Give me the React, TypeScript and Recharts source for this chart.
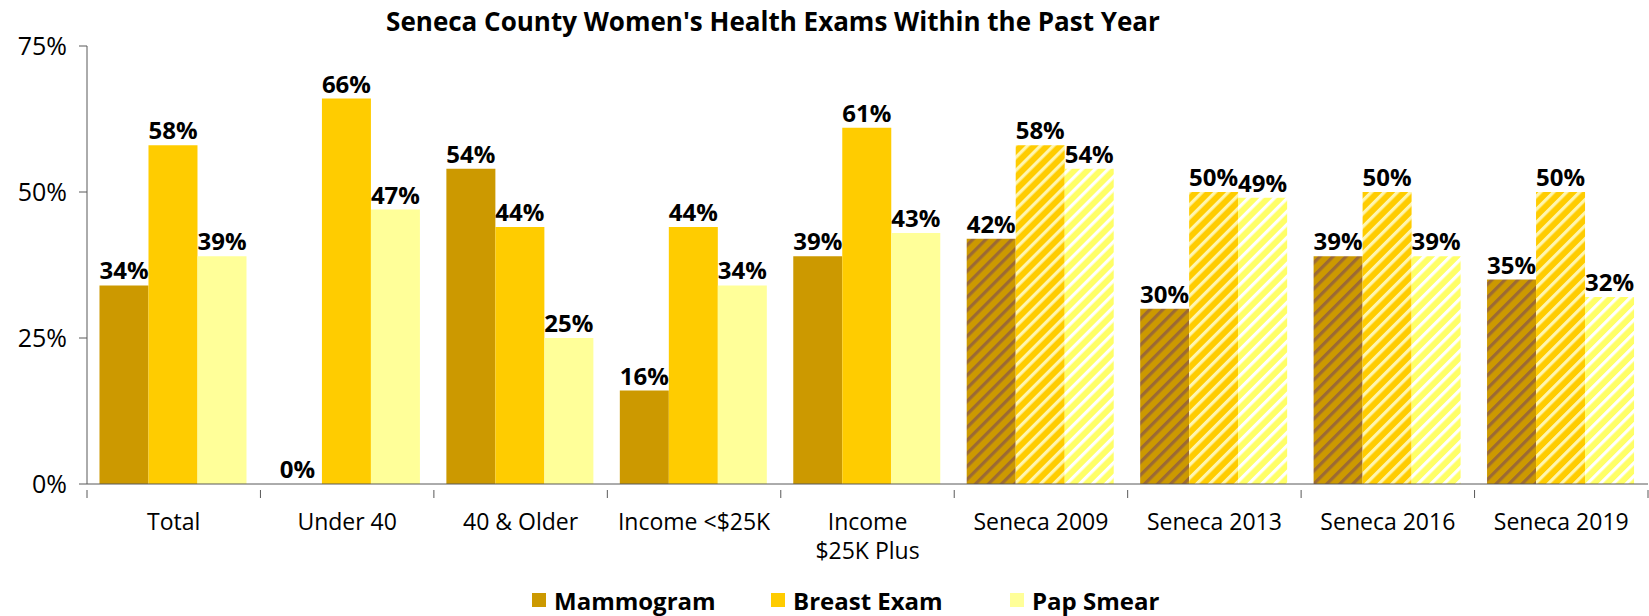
import { BarChart, Bar, XAxis, YAxis, Legend, LabelList, Cell } from 'recharts';

const categories = [
  'Total',
  'Under 40',
  '40 & Older',
  'Income <$25K',
  'Income\n$25K Plus',
  'Seneca 2009',
  'Seneca 2013',
  'Seneca 2016',
  'Seneca 2019',
];
const mammogram = [34, 0, 54, 16, 39, 42, 30, 39, 35];
const breastExam = [58, 66, 44, 44, 61, 58, 50, 50, 50];
const papSmear = [39, 47, 25, 34, 43, 54, 49, 39, 32];
const yTicks = [0, 25, 50, 75];

const data = categories.map((name, i) => ({
  name,
  mammogram: mammogram[i],
  breast: breastExam[i],
  pap: papSmear[i],
}));

const FONT = '"Open Sans", "Noto Sans", sans-serif';
const AXIS = '#595959';

const series = [
  { key: 'mammogram', label: 'Mammogram', color: '#CC9900', hatch: 'url(#hatch-m)' },
  { key: 'breast', label: 'Breast Exam', color: '#FFCC00', hatch: 'url(#hatch-b)' },
  { key: 'pap', label: 'Pap Smear', color: '#FFFF99', hatch: 'url(#hatch-p)' },
];

// survey years are drawn hatched
const isHatched = (name: string) => name.startsWith('Seneca');

const XTick = (props: any) => {
  const { x, y, payload, width, visibleTicksCount, index } = props;
  const band = width / visibleTicksCount;
  const lines = String(payload.value).split('\n');
  return (
    <g>
      <line x1={x - band / 2} x2={x - band / 2} y1={y} y2={y + 8} stroke={AXIS} />
      {index === visibleTicksCount - 1 && (
        <line x1={x + band / 2} x2={x + band / 2} y1={y} y2={y + 8} stroke={AXIS} />
      )}
      <text x={x} y={y + 40} textAnchor="middle" fontSize={23} fontFamily={FONT} fill="#000">
        {lines.map((l, i) => (
          <tspan key={i} x={x} dy={i === 0 ? 0 : 29}>
            {l}
          </tspan>
        ))}
      </text>
    </g>
  );
};

const LegendContent = () => (
  <div style={{ display: 'flex', paddingLeft: 532, height: 32, alignItems: 'center', fontFamily: FONT }}>
    {series.map((s) => (
      <div key={s.key} style={{ width: 239, display: 'flex', alignItems: 'center' }}>
        <span style={{ width: 14, height: 14, background: s.color, marginRight: 8 }} />
        <span style={{ fontSize: 24, fontWeight: 700, color: '#000' }}>{s.label}</span>
      </div>
    ))}
  </div>
);

export default function App() {
  return (
    <div style={{ position: 'absolute', left: 0, top: 0, width: 1649, height: 616, background: '#fff' }}>
      <div
        style={{
          position: 'absolute',
          left: 0,
          top: 5,
          width: 1546,
          textAlign: 'center',
          fontFamily: FONT,
          fontWeight: 700,
          fontSize: 26,
          lineHeight: '32px',
          zIndex: 1,
        }}
      >
        Seneca County Women's Health Exams Within the Past Year
      </div>
      <BarChart
        width={1649}
        height={616}
        data={data}
        margin={{ top: 46, right: 1, left: 0, bottom: 0 }}
        barCategoryGap="7.2%"
        barGap={0}
      >
        <defs>
          <pattern id="hatch-m" patternUnits="userSpaceOnUse" width={9.2} height={9.2} patternTransform="rotate(45)">
            <rect width={9.2} height={9.2} fill="#CC9900" />
            <rect width={3.2} height={9.2} fill="#9C6A34" />
          </pattern>
          <pattern id="hatch-b" patternUnits="userSpaceOnUse" width={9.2} height={9.2} patternTransform="rotate(45)">
            <rect width={9.2} height={9.2} fill="#FFCC00" />
            <rect width={3.2} height={9.2} fill="#FFF6B0" />
          </pattern>
          <pattern id="hatch-p" patternUnits="userSpaceOnUse" width={9.2} height={9.2} patternTransform="rotate(45)">
            <rect width={9.2} height={9.2} fill="#FFFF66" />
            <rect width={3.2} height={9.2} fill="#FFFFFF" />
          </pattern>
        </defs>
        <XAxis
          dataKey="name"
          height={100}
          interval={0}
          tickLine={false}
          tickMargin={0}
          tick={<XTick />}
          axisLine={{ stroke: AXIS }}
        />
        <YAxis
          width={87}
          domain={[0, 75]}
          ticks={yTicks}
          tickFormatter={(v) => `${v}%`}
          tickSize={8}
          tickMargin={12}
          tickLine={{ stroke: AXIS }}
          axisLine={{ stroke: AXIS }}
          tick={{ fontSize: 25, fontFamily: FONT, fill: '#000' }}
        />
        <Legend verticalAlign="bottom" content={<LegendContent />} wrapperStyle={{ left: 0, width: 1649 }} />
        {series.map((s) => (
          <Bar
            key={s.key}
            dataKey={s.key}
            name={s.label}
            fill={s.color}
            isAnimationActive={false}
            minPointSize={(v: number) => (v === 0 ? 0.01 : 0)}
          >
            {data.map((d, i) => (
              <Cell key={i} fill={isHatched(d.name) ? s.hatch : s.color} />
            ))}
            <LabelList
              dataKey={s.key}
              position="top"
              offset={6}
              formatter={(v: any) => `${v}%`}
              style={{ fontSize: 24, fontWeight: 700, fontFamily: FONT, fill: '#000' }}
            />
          </Bar>
        ))}
      </BarChart>
    </div>
  );
}
